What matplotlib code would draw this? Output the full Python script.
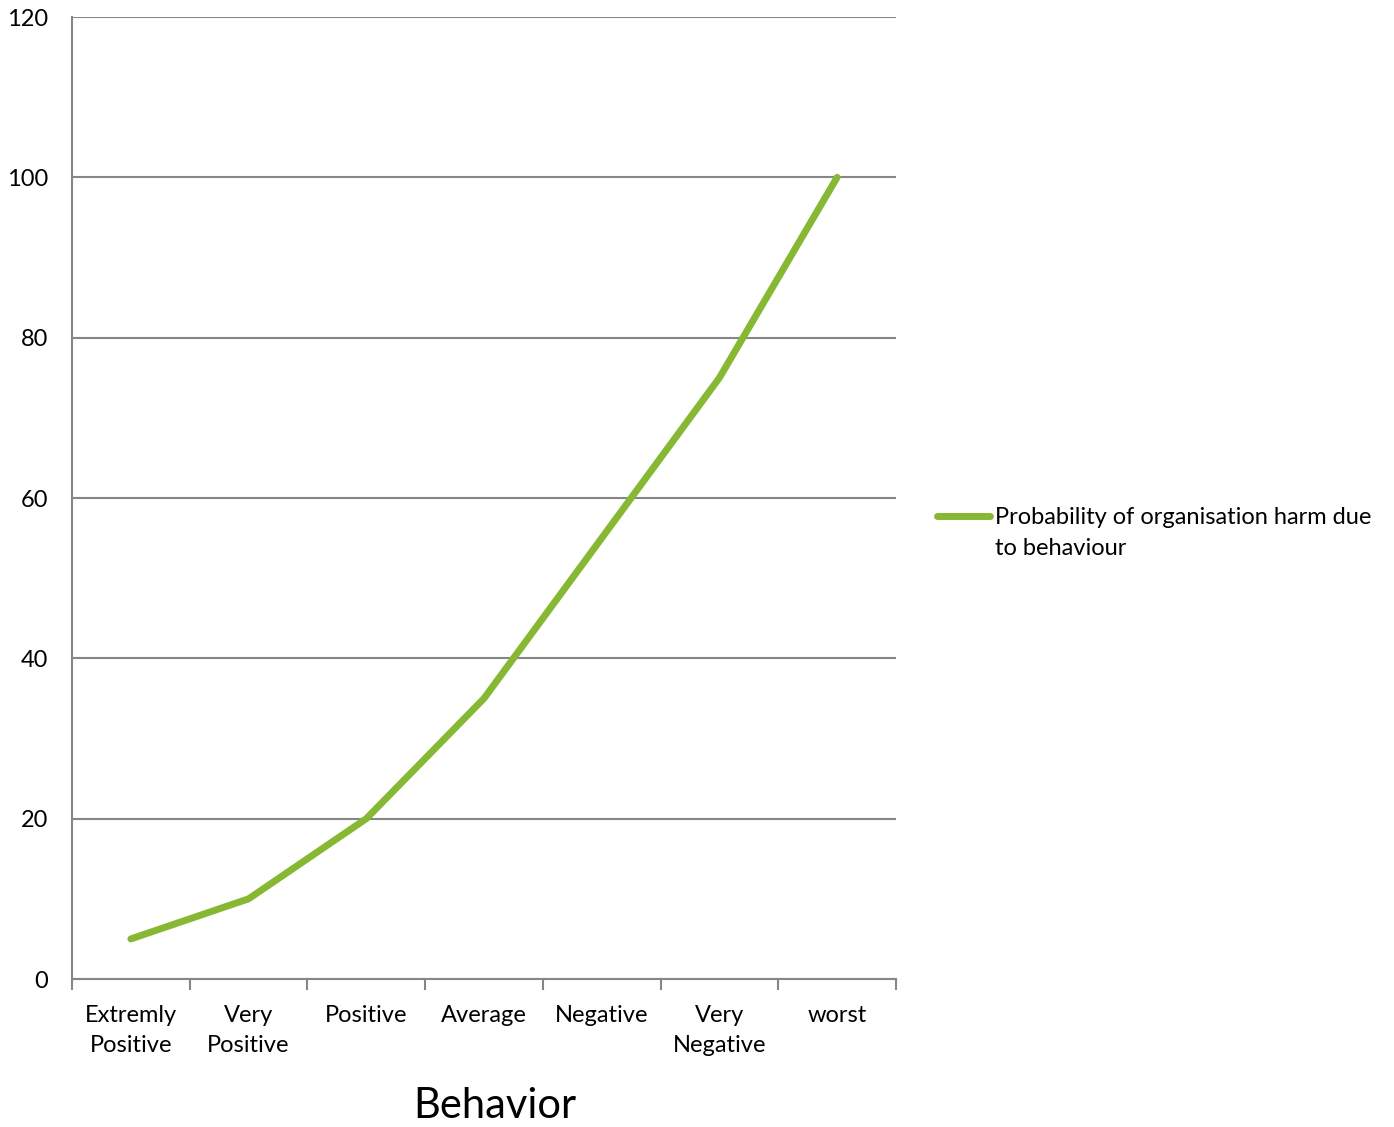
import matplotlib
matplotlib.use("Agg")
import matplotlib.pyplot as plt
from matplotlib.lines import Line2D

categories = ["Extremly\nPositive", "Very\nPositive", "Positive", "Average", "Negative", "Very\nNegative", "worst"]
values = [5, 10, 20, 35, 55, 75, 100]
yticks = [0, 20, 40, 60, 80, 100, 120]
series_name = "Probability of organisation harm due\nto behaviour"

plt.rcParams['font.family'] = ['Lato', 'DejaVu Sans']

W, H = 1394, 1127
fig = plt.figure(figsize=(W/100, H/100), dpi=100)
ax = fig.add_axes([72/W, 1-979/H, (896-72)/W, (979-17)/H])

x = [i + 0.5 for i in range(len(values))]
ax.plot(x, values, color="#86b834", lw=5, solid_capstyle="round", solid_joinstyle="round")

ax.set_xlim(0, len(values))
ax.set_ylim(0, 120)
ax.set_yticks(yticks)
ax.set_yticklabels([str(v) for v in yticks], fontsize=17)
ax.yaxis.grid(True, color="#868686", lw=1.5)
ax.set_axisbelow(True)
ax.tick_params(axis='y', length=0, pad=17)

ax.set_xticks(range(len(values)+1))
ax.set_xticklabels([])
ax.set_xticks(x, minor=True)
ax.set_xticklabels(categories, minor=True, fontsize=17, linespacing=1.5)
ax.tick_params(axis='x', which='major', length=8, color="#868686", width=1.5, direction='out')
ax.tick_params(axis='x', which='minor', length=0, pad=19)
for lab in ax.get_xticklabels(minor=True):
    lab.set_verticalalignment('top')

for s in ['top', 'right']:
    ax.spines[s].set_visible(False)
for s in ['left', 'bottom']:
    ax.spines[s].set_color("#868686")
    ax.spines[s].set_linewidth(1.5)

ax.set_xlabel("Behavior", fontsize=30)
ax.xaxis.set_label_coords(0.513, -0.112)
ax.xaxis.label.set_verticalalignment('top')

# legend
fig.add_artist(Line2D([937/W, 990/W], [1-516/H, 1-516/H], color="#86b834", lw=5, solid_capstyle="round"))
fig.text(995/W, 1-533/H, series_name, fontsize=17, va='center', ha='left', linespacing=1.55)

fig.savefig("out.png", dpi=100)
